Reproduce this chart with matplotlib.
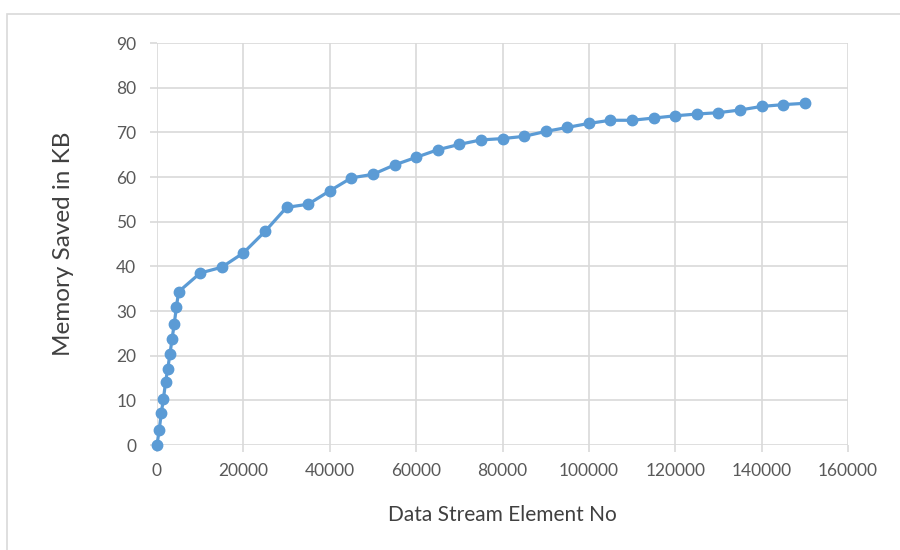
import matplotlib
matplotlib.use("Agg")
import matplotlib.pyplot as plt
from matplotlib.patches import Rectangle

x_elements = [0, 500, 1000, 1500, 2000, 2500, 3000, 3500, 4000, 4500, 5000,
              10000, 15000, 20000, 25000, 30000, 35000, 40000, 45000, 50000,
              55000, 60000, 65000, 70000, 75000, 80000, 85000, 90000, 95000,
              100000, 105000, 110000, 115000, 120000, 125000, 130000, 135000,
              140000, 145000, 150000]
memory_saved = [0, 3.3, 7.2, 10.4, 14.2, 17.1, 20.4, 23.8, 27.2, 30.9, 34.3,
                38.5, 39.8, 43.0, 47.8, 53.2, 53.9, 56.9, 59.8, 60.6,
                62.7, 64.4, 66.1, 67.3, 68.3, 68.6, 69.1, 70.2, 71.1,
                72.0, 72.7, 72.7, 73.2, 73.7, 74.1, 74.4, 75.0,
                75.8, 76.2, 76.5]
x_ticks = [0, 20000, 40000, 60000, 80000, 100000, 120000, 140000, 160000]
y_ticks = [0, 10, 20, 30, 40, 50, 60, 70, 80, 90]

plt.rcParams['font.family'] = ['Lato', 'DejaVu Sans']

fig = plt.figure(figsize=(9, 5.5), dpi=100)
fig.patch.set_facecolor('white')

# outer chart frame
fig.patches.append(Rectangle((7/900, -0.01), 1.0, (550-14)/550 + 0.01, transform=fig.transFigure,
                             fill=False, edgecolor='#d9d9d9', linewidth=1.2))

ax = fig.add_axes([157/900, 1 - 445/550, (848-157)/900, (445-43)/550])
ax.plot(x_elements, memory_saved, color='#5b9bd5', linewidth=2.3,
        marker='o', markersize=7.5, zorder=3, clip_on=False)

ax.set_xlim(0, 160000)
ax.set_ylim(0, 90)
ax.set_xticks(x_ticks)
ax.set_yticks(y_ticks)
ax.set_xticklabels([str(v) for v in x_ticks])
ax.set_yticklabels([str(v) for v in y_ticks])
ax.grid(True, color='#d9d9d9', linewidth=1.2, zorder=0)
ax.set_axisbelow(True)
for s in ax.spines.values():
    s.set_visible(False)
ax.tick_params(length=5, width=1.2, color='#d9d9d9', labelcolor='#595959', labelsize=12.5)
ax.tick_params(axis='x', pad=8)
ax.tick_params(axis='y', pad=10)

ax.set_xlabel('Data Stream Element No', fontsize=15, color='#404040', labelpad=19)
ax.set_ylabel('Memory Saved in KB', fontsize=17.5, color='#404040', labelpad=30)

fig.savefig('out.png', dpi=100, facecolor='white')
